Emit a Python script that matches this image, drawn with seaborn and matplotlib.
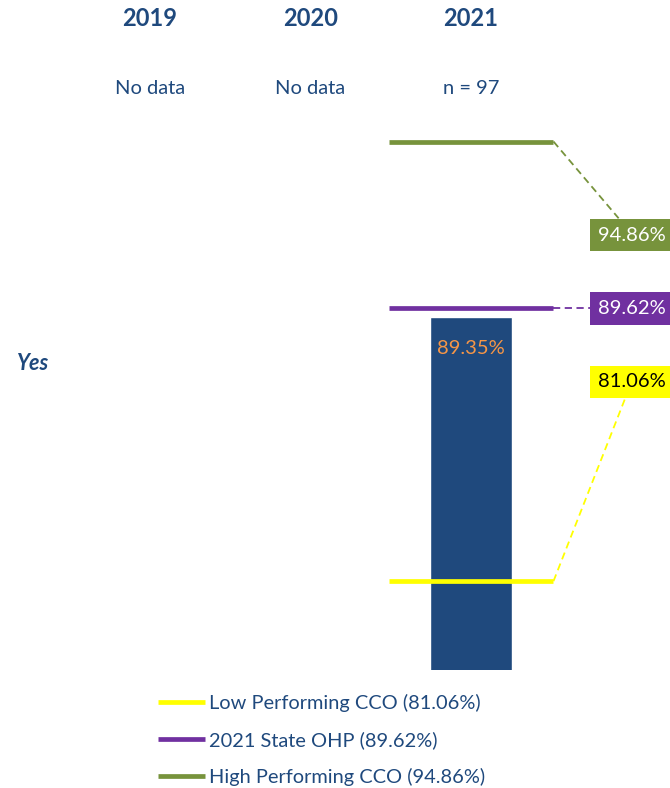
import matplotlib
matplotlib.use("Agg")
import matplotlib.pyplot as plt
import matplotlib.transforms as mtransforms
import seaborn as sns
import numpy as np
import pandas as pd

# data
years = ["2019", "2020", "2021"]
year_notes = ["No data", "No data", "n = 97"]
rates = [np.nan, np.nan, 89.35]
ref_names = ["Low Performing CCO", "2021 State OHP", "High Performing CCO"]
ref_values = [81.06, 89.62, 94.86]
ref_colors = ["#FFFF00", "#7030A0", "#77933C"]
ref_text_colors = ["black", "white", "white"]
row_label = "Yes"

# layout (label box heights on the value scale)
label_y = [87.32, 89.62, 91.92]

navy = "#1F497D"
bar_color = "#1F497D"
value_color = "#F79646"

sns.set_theme(style="white")
plt.rcParams["font.family"] = ["Lato", "DejaVu Sans"]

fig = plt.figure(figsize=(6.7, 7.88), dpi=100)
ax = fig.add_axes([0, 0.1497, 1, 0.7107])

df = pd.DataFrame({"year": years, "rate": rates})
sns.barplot(data=df, x="year", y="rate", order=years, color=bar_color,
            saturation=1, width=0.517, ax=ax)

ax.set_xlim(-0.935, 3.24)
ax.set_ylim(78.27, 95.85)
ax.axis("off")

# value inside bar
for i, v in enumerate(rates):
    if not np.isnan(v):
        ax.text(i, v - 1.0, "{:.2f}%".format(v), ha="center", va="center",
                color=value_color, fontsize=14.5)

# reference lines for 2021
xi = years.index("2021")
x0, x1 = xi - 0.514, xi + 0.514
handles = []
for name, val, col, tcol, ly in zip(ref_names, ref_values, ref_colors, ref_text_colors, label_y):
    h, = ax.plot([x0, x1], [val, val], color=col, lw=3.4, solid_capstyle="butt",
                 label="{} ({:.2f}%)".format(name, val), zorder=3)
    handles.append(h)
    # connector to label box
    if abs(ly - val) < 0.05:
        end = (2.76, ly)
    elif ly < val:
        end = (2.92, ly + 0.53)
    else:
        end = (2.96, ly - 0.53)
    ax.plot([x1, end[0]], [val, end[1]], color=col, lw=1.3, ls=(0, (4, 2.5)), zorder=2)
    ax.text(3.0, ly, "{:.2f}%".format(val), ha="center", va="center", color=tcol,
            fontsize=14.5, zorder=4,
            bbox=dict(boxstyle="square,pad=0.38", fc=col, ec="none"))

# year headers and notes
trans = mtransforms.blended_transform_factory(ax.transData, fig.transFigure)
for i, (yr, note) in enumerate(zip(years, year_notes)):
    ax.text(i, 1 - 19 / 788, yr, transform=trans, ha="center", va="center",
            fontsize=17, fontweight="bold", color=navy)
    ax.text(i, 1 - 88 / 788, note, transform=trans, ha="center", va="center",
            fontsize=14.5, color=navy)

fig.text(17 / 670, 1 - 363 / 788, row_label, ha="left", va="center",
         fontsize=15.5, fontweight="bold", fontstyle="italic", color=navy)

leg = fig.legend(handles=handles, loc="center left",
                 bbox_to_anchor=(148 / 670, 1 - 740 / 788), frameon=False,
                 fontsize=14.4, handlelength=2.35, handletextpad=0.2,
                 labelspacing=0.95, borderpad=0)
for t in leg.get_texts():
    t.set_color(navy)

fig.savefig("out.png", dpi=100)
